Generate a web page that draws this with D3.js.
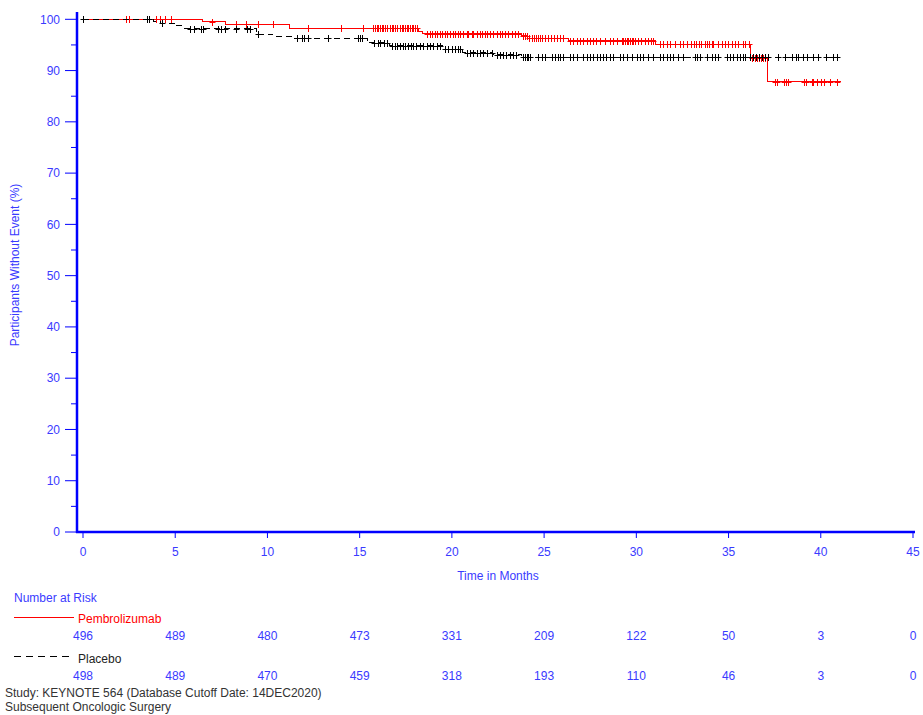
<!DOCTYPE html>
<html>
<head>
<meta charset="utf-8">
<script src="https://cdn.jsdelivr.net/npm/d3@7"></script>
<style>
  html, body { margin: 0; padding: 0; background: #fff; }
  svg { display: block; }
  text { font-family: "Liberation Sans", Arial, sans-serif; font-size: 12px; }
</style>
</head>
<body>
<svg id="km" width="923" height="715"></svg>
<script>
// Kaplan-Meier step points (months, % without event)
const pembroStepTimes = [0, 6.5, 7.7, 11.2, 18.2, 18.4, 23.8, 24.1, 26.3, 31.05, 36.2, 37.1];
const pembroStepSurv  = [100, 99.5, 99.0, 98.3, 97.7, 97.2, 96.8, 96.3, 95.8, 95.1, 92.4, 87.8];
const pembroEnd = 41.1;

const placeboStepTimes = [0, 3.8, 4.2, 5.0, 5.5, 9.4, 10.3, 11.4, 15.4, 16.6, 19.5, 20.6, 22.2, 23.8];
const placeboStepSurv  = [100, 99.5, 99.2, 98.7, 98.2, 97.1, 96.7, 96.3, 95.4, 94.85, 94.15, 93.5, 93.1, 92.6];
const placeboEnd = 40.92;

// Censoring times (months)
const pembroCensor = [
  2.35, 2.5, 3.95, 4.15, 4.45, 4.75, 7.0, 8.3, 8.85, 9.5, 10.3, 12.2, 14.0, 15.2,
  15.73, 15.83, 15.92, 16.0, 16.1, 16.19, 16.28, 16.37, 16.46, 16.64, 16.73, 16.82, 16.91, 17.0,
  17.18, 17.27, 17.36, 17.45, 17.54, 17.64, 17.72, 17.82, 17.9, 18.0, 18.1,
  18.63, 18.81, 18.9, 19.08, 19.17, 19.35, 19.44, 19.62, 19.71, 19.89, 20.07, 20.16, 20.34, 20.43,
  20.61, 20.8, 20.88, 21.07, 21.16, 21.34, 21.52, 21.61, 21.79, 21.88, 22.06, 22.24, 22.42, 22.6,
  22.69, 22.87, 23.05, 23.24, 23.41, 23.59,
  23.85, 23.95, 24.05,
  24.2, 24.34, 24.44, 24.55, 24.66, 24.77, 24.88, 25.04, 25.2, 25.37, 25.53, 25.69, 25.85, 26.02,
  26.4, 26.57, 26.76, 26.94, 27.12, 27.3, 27.48, 27.66, 27.84, 28.02, 28.29, 28.56, 28.74, 28.93,
  29.2, 29.28, 29.38, 29.47, 29.56, 29.65, 29.74, 29.83, 29.92, 30.1, 30.28, 30.46, 30.64, 30.82, 30.91,
  31.27, 31.44, 31.65, 31.82, 32.09, 32.36, 32.52, 32.74, 32.99, 33.12, 33.26, 33.4, 33.53, 33.71,
  33.84, 33.95, 34.08, 34.16, 34.43, 34.62, 34.8, 34.98, 35.16, 35.34, 35.52, 35.79, 35.88, 36.1,
  36.26, 36.42, 36.53, 36.64, 36.75, 36.86, 36.96,
  37.5, 37.6, 38.0, 38.1, 38.2, 39.1, 39.2, 39.5, 39.6, 39.8, 40.0, 40.2, 40.5, 40.9
];
const placeboCensor = [
  0.0, 3.45, 3.6, 4.3, 5.8, 6.0, 6.4, 6.5, 7.3, 7.5, 7.7, 8.3, 8.9, 9.05, 9.5,
  11.6, 11.9, 12.0, 12.2, 13.3, 14.9, 15.0, 15.1,
  15.8, 16.0, 16.1, 16.3, 16.5,
  16.73, 16.91, 17.04, 17.18, 17.33, 17.45, 17.63, 17.76, 17.9, 18.08, 18.27, 18.44, 18.63, 18.81,
  18.99, 19.17, 19.35,
  19.62, 19.8, 19.98, 20.16, 20.34, 20.43,
  20.8, 20.98, 21.16, 21.34, 21.52, 21.7, 21.88, 22.15,
  22.42, 22.6, 22.78, 22.96, 23.14, 23.32, 23.5,
  23.85, 23.95, 24.05, 24.15, 24.25,
  24.66, 24.88, 25.04, 25.42, 25.58, 25.75, 25.85, 26.02, 26.4, 26.56, 26.78, 27.1, 27.32, 27.48,
  27.64, 27.86, 28.02, 28.18, 28.35, 28.56, 28.73, 29.11, 29.27, 29.49, 29.76, 30.03, 30.19, 30.35,
  30.62, 30.89, 31.27, 31.44, 31.65, 31.82, 31.98, 32.25, 32.52, 33.17, 33.28, 33.44, 33.82, 34.09,
  34.25, 34.42, 34.91, 35.07, 35.23, 35.45, 35.61, 35.77, 35.88, 36.15, 36.31, 36.48, 36.64, 36.8,
  36.96, 37.13, 37.67, 38.05, 38.43, 38.64, 38.75, 39.02, 39.24, 39.57, 39.84, 40.27, 40.65, 40.87
];

// Axis ticks and number-at-risk table
const xTicks = [0, 5, 10, 15, 20, 25, 30, 35, 40, 45];
const yMajorTicks = [0, 10, 20, 30, 40, 50, 60, 70, 80, 90, 100];
const yMinorTicks = [5, 15, 25, 35, 45, 55, 65, 75, 85, 95];
const riskTimes = [0, 5, 10, 15, 20, 25, 30, 35, 40, 45];
const pembroRisk = [496, 489, 480, 473, 331, 209, 122, 50, 3, 0];
const placeboRisk = [498, 489, 470, 459, 318, 193, 110, 46, 3, 0];

const BLUE = "#0000ff";
const BLUE_TEXT = "#3a3aff";
const RED = "#ff0000";

const svg = d3.select("#km");

const x = d3.scaleLinear().domain([0, 45]).range([83, 913]);
const y = d3.scaleLinear().domain([0, 100]).range([532, 19.3]);

// Axes
const yAxisG = svg.append("g");
yAxisG.append("line")
  .attr("x1", 77).attr("x2", 77).attr("y1", 12).attr("y2", y(0) + 1)
  .attr("stroke", BLUE).attr("stroke-width", 2.5);
yAxisG.selectAll("line.major").data(yMajorTicks).join("line")
  .attr("class", "major")
  .attr("x1", 65).attr("x2", 77)
  .attr("y1", d => y(d)).attr("y2", d => y(d))
  .attr("stroke", BLUE).attr("stroke-width", 1);
yAxisG.selectAll("line.minor").data(yMinorTicks).join("line")
  .attr("class", "minor")
  .attr("x1", 71).attr("x2", 77)
  .attr("y1", d => y(d)).attr("y2", d => y(d))
  .attr("stroke", BLUE).attr("stroke-width", 1);
yAxisG.selectAll("text").data(yMajorTicks).join("text")
  .attr("x", 60).attr("y", d => y(d)).attr("dy", "0.35em")
  .attr("text-anchor", "end").attr("fill", BLUE_TEXT)
  .text(d => d);

const xAxisG = svg.append("g");
xAxisG.append("line")
  .attr("x1", 76).attr("x2", 915).attr("y1", y(0)).attr("y2", y(0))
  .attr("stroke", BLUE).attr("stroke-width", 2.5);
xAxisG.selectAll("line.tick").data(xTicks).join("line")
  .attr("class", "tick")
  .attr("x1", d => x(d)).attr("x2", d => x(d))
  .attr("y1", y(0)).attr("y2", y(0) + 6)
  .attr("stroke", BLUE).attr("stroke-width", 1);
xAxisG.selectAll("text").data(xTicks).join("text")
  .attr("x", d => x(d)).attr("y", 552).attr("dy", "0.35em")
  .attr("text-anchor", "middle").attr("fill", BLUE_TEXT)
  .text(d => d);

svg.append("text")
  .attr("x", (x(0) + x(45)) / 2).attr("y", 576).attr("dy", "0.35em")
  .attr("text-anchor", "middle").attr("fill", BLUE_TEXT)
  .text("Time in Months");

svg.append("text")
  .attr("transform", "translate(15,265) rotate(-90)")
  .attr("dy", "0.35em")
  .attr("text-anchor", "middle").attr("fill", BLUE_TEXT)
  .text("Participants Without Event (%)");

// Survival curves
function stepPoints(times, surv, end) {
  const pts = times.map((t, i) => [t, surv[i]]);
  pts.push([end, surv[surv.length - 1]]);
  return pts;
}
function survAt(times, surv, t) {
  const i = d3.bisectRight(times, t) - 1;
  return surv[Math.max(0, i)];
}
const stepLine = d3.line()
  .x(d => x(d[0])).y(d => y(d[1]))
  .curve(d3.curveStepAfter);

function drawArm(times, surv, end, censor, color, dash) {
  const g = svg.append("g");
  g.append("path")
    .datum(stepPoints(times, surv, end))
    .attr("d", stepLine)
    .attr("fill", "none")
    .attr("stroke", color)
    .attr("stroke-width", 1)
    .attr("stroke-dasharray", dash)
    .attr("shape-rendering", "crispEdges");
  const marks = g.selectAll("g.censor").data(censor).join("g")
    .attr("class", "censor")
    .attr("transform", t => `translate(${Math.round(x(t)) + 0.5},${Math.round(y(survAt(times, surv, t))) + 0.5})`);
  marks.append("line")
    .attr("x1", 0).attr("x2", 0).attr("y1", -3.5).attr("y2", 3.5)
    .attr("stroke", color).attr("stroke-width", 1);
  marks.append("line")
    .attr("x1", -3).attr("x2", 3).attr("y1", 0).attr("y2", 0)
    .attr("stroke", color).attr("stroke-width", 1);
}

drawArm(pembroStepTimes, pembroStepSurv, pembroEnd, pembroCensor, RED, null);
drawArm(placeboStepTimes, placeboStepSurv, placeboEnd, placeboCensor, "#000", "6,4");

// Number at risk table
svg.append("text")
  .attr("x", 14).attr("y", 598).attr("dy", "0.35em")
  .attr("fill", BLUE_TEXT).text("Number at Risk");

svg.append("line")
  .attr("x1", 14).attr("x2", 74).attr("y1", 617.5).attr("y2", 617.5)
  .attr("stroke", RED).attr("stroke-width", 1);
svg.append("text")
  .attr("x", 78).attr("y", 619).attr("dy", "0.35em")
  .attr("fill", RED).text("Pembrolizumab");
svg.append("g").selectAll("text").data(pembroRisk).join("text")
  .attr("x", (d, i) => x(riskTimes[i])).attr("y", 636).attr("dy", "0.35em")
  .attr("text-anchor", "middle").attr("fill", BLUE_TEXT)
  .text(d => d);

svg.append("line")
  .attr("x1", 14).attr("x2", 74).attr("y1", 656.5).attr("y2", 656.5)
  .attr("stroke", "#000").attr("stroke-width", 1)
  .attr("stroke-dasharray", "7,5");
svg.append("text")
  .attr("x", 78).attr("y", 659).attr("dy", "0.35em")
  .attr("fill", "#222").text("Placebo");
svg.append("g").selectAll("text").data(placeboRisk).join("text")
  .attr("x", (d, i) => x(riskTimes[i])).attr("y", 675.5).attr("dy", "0.35em")
  .attr("text-anchor", "middle").attr("fill", BLUE_TEXT)
  .text(d => d);

// Footnotes
svg.append("text")
  .attr("x", 5).attr("y", 693).attr("dy", "0.35em")
  .attr("fill", "#333").text("Study: KEYNOTE 564 (Database Cutoff Date: 14DEC2020)");
svg.append("text")
  .attr("x", 5).attr("y", 707).attr("dy", "0.35em")
  .attr("fill", "#333").text("Subsequent Oncologic Surgery");
</script>
</body>
</html>
